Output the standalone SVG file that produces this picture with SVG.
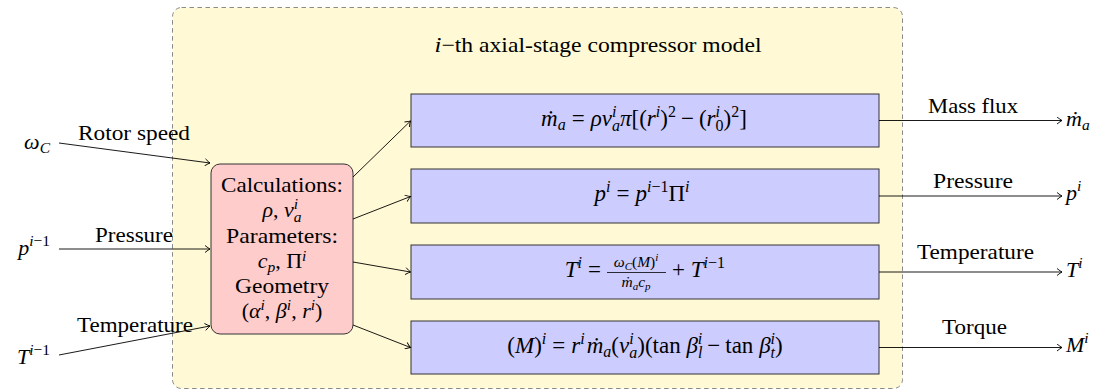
<svg xmlns="http://www.w3.org/2000/svg" width="1105" height="390" viewBox="0 0 1105 390" font-family="'Liberation Serif','DejaVu Serif',serif">
<style>
.t{font-family:"Liberation Serif","DejaVu Serif",serif;font-size:21px;fill:#000}
.m{font-family:"Liberation Serif","DejaVu Serif",serif;font-size:22px;font-style:italic;fill:#000}
.e{font-size:23px}
.u{font-style:normal}
.s{font-size:15.5px}
.es{font-size:16px}
.c{fill:none;stroke:#000;stroke-width:0.9}
.blue{fill:#CCCCFF;stroke:#333;stroke-width:1}
</style>
<defs>
<marker id="ah" viewBox="-6 -4 8 8" refX="0" refY="0" markerWidth="8" markerHeight="8" orient="auto" markerUnits="userSpaceOnUse">
<path d="M-5,-3.5 Q-1.5,-0.7 0,0 Q-1.5,0.7 -5,3.5" fill="none" stroke="#000" stroke-width="0.9"/>
</marker>
</defs>
<g id="container">
<rect x="172.5" y="7.5" width="730" height="381" rx="9" fill="#FFF9D6" stroke="#8a8a8a" stroke-width="1" stroke-dasharray="4.5 3.5"/>
<text class="t" x="598" y="52" text-anchor="middle" textLength="327" lengthAdjust="spacingAndGlyphs"><tspan class="m" font-size="21">i</tspan>−th axial-stage compressor model</text>
</g>
<g id="calc">
<rect x="211" y="164" width="142" height="170" rx="9" fill="#FFCCCC" stroke="#333" stroke-width="1"/>
<text class="t" x="282" y="192" text-anchor="middle" textLength="122" lengthAdjust="spacingAndGlyphs">Calculations:</text>
<text class="m" x="282" y="217" text-anchor="middle" font-size="21">ρ<tspan class="u">, </tspan>v<tspan class="s" dy="5">a</tspan><tspan class="s" dx="-7.7" dy="-13">i</tspan></text>
<text class="t" x="282" y="243" text-anchor="middle" textLength="112" lengthAdjust="spacingAndGlyphs">Parameters:</text>
<text class="m" x="282" y="268" text-anchor="middle" font-size="21">c<tspan class="s" dy="4">p</tspan><tspan class="u" dy="-4">, Π</tspan><tspan class="s" dy="-7">i</tspan></text>
<text class="t" x="282" y="293" text-anchor="middle" textLength="94" lengthAdjust="spacingAndGlyphs">Geometry</text>
<text class="m" x="282" y="318" text-anchor="middle" font-size="21"><tspan class="u">(</tspan>α<tspan class="s" dy="-8">i</tspan><tspan class="u" dy="8">, </tspan>β<tspan class="s" dy="-8">i</tspan><tspan class="u" dy="8">, </tspan>r<tspan class="s" dy="-8">i</tspan><tspan class="u" dy="8">)</tspan></text>
</g>
<g id="massflux">
<rect class="blue" x="411" y="94" width="468" height="53"/>
<text class="m e" x="644" y="126" text-anchor="middle">ṁ<tspan class="es" dy="4">a</tspan><tspan class="u" dy="-4" dx="6">=</tspan><tspan dx="6">ρv</tspan><tspan class="es" dy="5">a</tspan><tspan class="es" dx="-8" dy="-14">i</tspan><tspan dx="3.6" dy="9">π</tspan><tspan class="u">[(</tspan>r<tspan class="es" dy="-9">i</tspan><tspan class="u" dy="9">)</tspan><tspan class="es u" dy="-9">2</tspan><tspan class="u" dy="9" dx="5">−</tspan><tspan class="u" dx="5">(</tspan>r<tspan class="es u" dy="5">0</tspan><tspan class="es" dx="-8" dy="-14">i</tspan><tspan class="u" dx="3.6" dy="9">)</tspan><tspan class="es u" dy="-9">2</tspan><tspan class="u" dy="9">]</tspan></text>
</g>
<g id="pressure">
<rect class="blue" x="411" y="169" width="468" height="54"/>
<text class="m e" x="642" y="201" text-anchor="middle">p<tspan class="es" dy="-9">i</tspan><tspan class="u" dy="9" dx="6">=</tspan><tspan dx="6">p</tspan><tspan class="es" dy="-9">i</tspan><tspan class="es u">−1</tspan><tspan class="u" dy="9">Π</tspan><tspan class="es" dy="-9">i</tspan></text>
</g>
<g id="temperature">
<rect class="blue" x="411" y="245" width="468" height="54"/>
<text class="m e" x="601" y="277" text-anchor="end">T<tspan class="es" dy="-9">i</tspan><tspan class="u" dy="9" dx="6">=</tspan></text>
<text class="m s" x="636" y="267" text-anchor="middle">ω<tspan font-size="11" dy="3">C</tspan><tspan class="u" dy="-3">(</tspan>M<tspan class="u">)</tspan><tspan font-size="11" dy="-6">i</tspan></text>
<line x1="607" y1="272.5" x2="666" y2="272.5" stroke="#000" stroke-width="0.8"/>
<text class="m s" x="636" y="287" text-anchor="middle">ṁ<tspan font-size="11" dy="3">a</tspan><tspan dy="-3">c</tspan><tspan font-size="11" dy="3">p</tspan></text>
<text class="m e" x="672" y="277"><tspan class="u">+ </tspan>T<tspan class="es" dy="-9">i</tspan><tspan class="es u">−1</tspan></text>
</g>
<g id="torque">
<rect class="blue" x="411" y="321" width="468" height="53"/>
<text class="m e" x="645" y="353" text-anchor="middle"><tspan class="u">(</tspan>M<tspan class="u">)</tspan><tspan class="es" dy="-9">i</tspan><tspan class="u" dy="9" dx="6">=</tspan><tspan dx="6">r</tspan><tspan class="es" dy="-9">i</tspan><tspan dy="9" dx="2">ṁ</tspan><tspan class="es" dy="4">a</tspan><tspan class="u" dy="-4">(</tspan>v<tspan class="es" dy="5">a</tspan><tspan class="es" dx="-8" dy="-14">i</tspan><tspan class="u" dx="3.6" dy="9">)(tan </tspan>β<tspan class="es" dy="5">l</tspan><tspan class="es" dx="-4.5" dy="-14">i</tspan><tspan class="u" dy="9" dx="5">−</tspan><tspan class="u" dx="5">tan </tspan>β<tspan class="es" dy="5">t</tspan><tspan class="es" dx="-4.5" dy="-14">i</tspan><tspan class="u" dy="9">)</tspan></text>
</g>
<g id="inputs">
<text class="m" x="50" y="149" text-anchor="end">ω<tspan class="s" dy="4">C</tspan></text>
<text class="m" x="50" y="255" text-anchor="end">p<tspan class="s" dy="-9">i</tspan><tspan class="s u">−1</tspan></text>
<text class="m" x="50" y="364" text-anchor="end">T<tspan class="s" dy="-9">i</tspan><tspan class="s u">−1</tspan></text>
</g>
<g id="outputs">
<text class="m" x="1066" y="126">ṁ<tspan class="s" dy="4">a</tspan></text>
<text class="m" x="1066" y="200">p<tspan class="s" dy="-9">i</tspan></text>
<text class="m" x="1066" y="277">T<tspan class="s" dy="-9">i</tspan></text>
<text class="m" x="1066" y="352">M<tspan class="s" dy="-9">i</tspan></text>
</g>
<g id="connectors">
<line class="c" x1="59" y1="143" x2="210" y2="163" marker-end="url(#ah)"/>
<line class="c" x1="59" y1="249" x2="210" y2="249" marker-end="url(#ah)"/>
<line class="c" x1="59" y1="355" x2="210" y2="326" marker-end="url(#ah)"/>
<line class="c" x1="353" y1="177" x2="410.5" y2="121" marker-end="url(#ah)"/>
<line class="c" x1="353" y1="219" x2="410.5" y2="196.5" marker-end="url(#ah)"/>
<line class="c" x1="353" y1="262" x2="410.5" y2="272" marker-end="url(#ah)"/>
<line class="c" x1="353" y1="325" x2="410.5" y2="347.5" marker-end="url(#ah)"/>
<line class="c" x1="879" y1="120.5" x2="1062" y2="120.5" marker-end="url(#ah)"/>
<line class="c" x1="879" y1="196" x2="1062" y2="196" marker-end="url(#ah)"/>
<line class="c" x1="879" y1="272" x2="1062" y2="272" marker-end="url(#ah)"/>
<line class="c" x1="879" y1="347.5" x2="1062" y2="347.5" marker-end="url(#ah)"/>
<text class="t" x="134" y="140" text-anchor="middle" textLength="112" lengthAdjust="spacingAndGlyphs">Rotor speed</text>
<text class="t" x="134" y="242" text-anchor="middle" textLength="78" lengthAdjust="spacingAndGlyphs">Pressure</text>
<text class="t" x="135" y="332" text-anchor="middle" textLength="116" lengthAdjust="spacingAndGlyphs">Temperature</text>
<text class="t" x="973" y="113" text-anchor="middle" textLength="90" lengthAdjust="spacingAndGlyphs">Mass flux</text>
<text class="t" x="973" y="188" text-anchor="middle" textLength="80" lengthAdjust="spacingAndGlyphs">Pressure</text>
<text class="t" x="975.5" y="259" text-anchor="middle" textLength="117" lengthAdjust="spacingAndGlyphs">Temperature</text>
<text class="t" x="974.5" y="334" text-anchor="middle" textLength="65" lengthAdjust="spacingAndGlyphs">Torque</text>
</g>
</svg>
